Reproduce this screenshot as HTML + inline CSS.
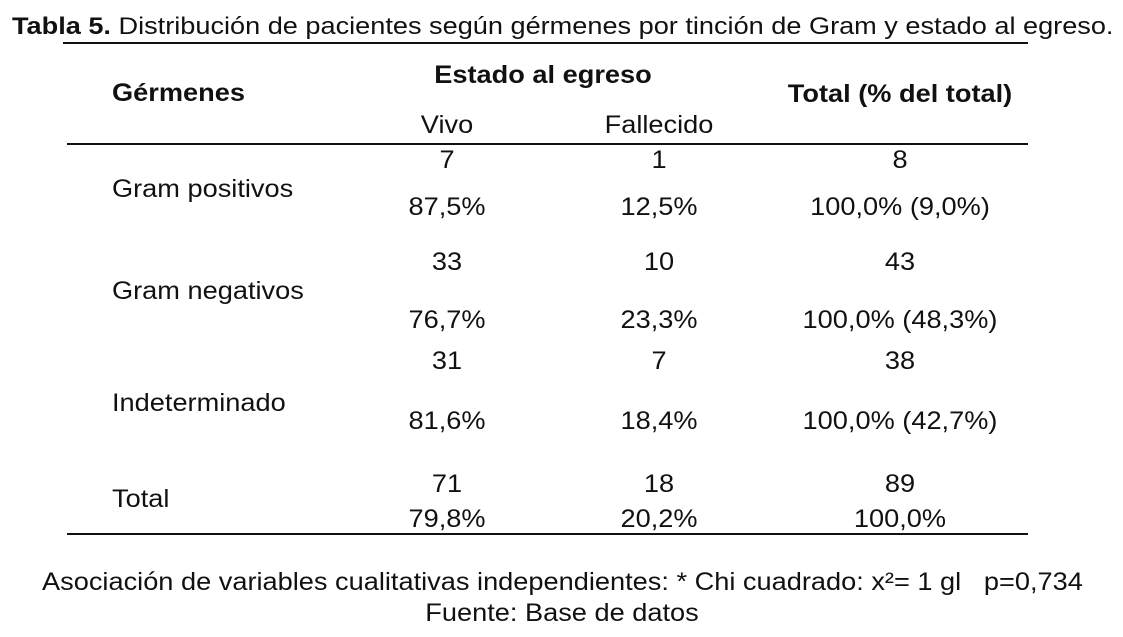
<!DOCTYPE html>
<html><head><meta charset="utf-8"><style>
body{margin:0;width:1123px;height:637px;background:#fff;position:relative;overflow:hidden;font-family:"Liberation Sans",Arial,sans-serif;color:#111;}
.t{position:absolute;font-size:25px;line-height:25px;white-space:nowrap;transform:scaleX(1.087);transform-origin:0 50%;}
.c{transform:translateX(-50%) scaleX(1.087);transform-origin:50% 50%;}
.b{font-weight:bold;}
.l{position:absolute;height:2px;background:#111;}
</style></head><body>
<div class="t" style="left:12px;top:15px;font-size:24px;line-height:24px;transform:scaleX(1.13)"><b>Tabla 5.</b> Distribución de pacientes según gérmenes por tinción de Gram y estado al egreso.</div>
<div class="l" style="left:63px;width:965px;top:42px;height:1.5px"></div>

<div class="t b c" style="left:543px;top:63px">Estado al egreso</div>
<div class="t b" style="left:112px;top:81px">Gérmenes</div>
<div class="t b c" style="left:900px;top:82px">Total (% del total)</div>
<div class="t c" style="left:447px;top:113px">Vivo</div>
<div class="t c" style="left:659px;top:113px">Fallecido</div>
<div class="l" style="left:67px;width:961px;top:143px"></div>

<div class="t c" style="left:447px;top:148px">7</div>
<div class="t c" style="left:659px;top:148px">1</div>
<div class="t c" style="left:900px;top:148px">8</div>
<div class="t" style="left:112px;top:177px">Gram positivos</div>
<div class="t c" style="left:447px;top:195px">87,5%</div>
<div class="t c" style="left:659px;top:195px">12,5%</div>
<div class="t c" style="left:900px;top:195px">100,0% (9,0%)</div>

<div class="t c" style="left:447px;top:250px">33</div>
<div class="t c" style="left:659px;top:250px">10</div>
<div class="t c" style="left:900px;top:250px">43</div>
<div class="t" style="left:112px;top:279px">Gram negativos</div>
<div class="t c" style="left:447px;top:308px">76,7%</div>
<div class="t c" style="left:659px;top:308px">23,3%</div>
<div class="t c" style="left:900px;top:308px">100,0% (48,3%)</div>

<div class="t c" style="left:447px;top:349px">31</div>
<div class="t c" style="left:659px;top:349px">7</div>
<div class="t c" style="left:900px;top:349px">38</div>
<div class="t" style="left:112px;top:391px">Indeterminado</div>
<div class="t c" style="left:447px;top:409px">81,6%</div>
<div class="t c" style="left:659px;top:409px">18,4%</div>
<div class="t c" style="left:900px;top:409px">100,0% (42,7%)</div>

<div class="t c" style="left:447px;top:472px">71</div>
<div class="t c" style="left:659px;top:472px">18</div>
<div class="t c" style="left:900px;top:472px">89</div>
<div class="t" style="left:112px;top:487px">Total</div>
<div class="t c" style="left:447px;top:507px">79,8%</div>
<div class="t c" style="left:659px;top:507px">20,2%</div>
<div class="t c" style="left:900px;top:507px">100,0%</div>
<div class="l" style="left:67px;width:961px;top:533px"></div>

<div class="t" style="left:42px;top:570px">Asociación de variables cualitativas independientes: * Chi cuadrado: x²= 1 gl&nbsp;&nbsp; p=0,734</div>
<div class="t c" style="left:562px;top:601px">Fuente: Base de datos</div>
</body></html>
